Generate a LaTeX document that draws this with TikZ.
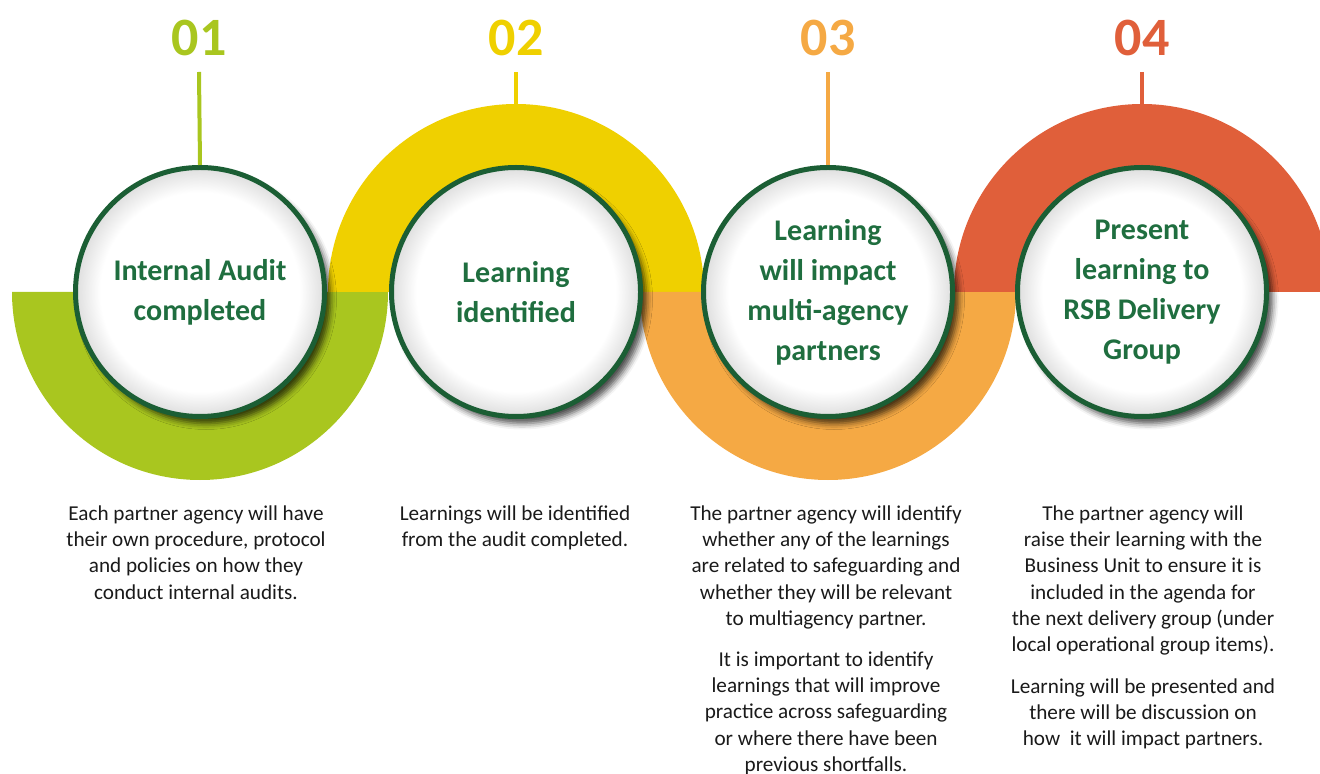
\documentclass[tikz,border=0pt]{standalone}
\usepackage{fontspec}
\setmainfont{Carlito}
\usepackage{xcolor}
\usetikzlibrary{shadows.blur}
\definecolor{vlime}{HTML}{A9C61F}
\definecolor{vyellow}{HTML}{EFD000}
\definecolor{vorange}{HTML}{F5A944}
\definecolor{vred}{HTML}{E05F3A}
\definecolor{vdarkgreen}{HTML}{1B5E34}
\definecolor{vgreen}{HTML}{1F6E3F}
\definecolor{vdarkgray}{HTML}{1a1a1a}
\pgfdeclareradialshading{discshade}{\pgfpoint{0bp}{0bp}}{color(0bp)=(white); color(20bp)=(white); color(25bp)=(black!13); color(50bp)=(black!13)}

\begin{document}
\begin{tikzpicture}[x=0.5pt, y=-0.5pt,
		disc/.style={circle, draw=vdarkgreen, line width=2.5pt, minimum size=124.5pt, inner sep=0pt,
			shade, shading=discshade,
			blur shadow={shadow xshift=3pt, shadow yshift=-3.5pt, shadow blur radius=3pt, shadow opacity=70},
			text=vgreen, align=center, font=\fontsize{15}{20}\selectfont\bfseries},
		num/.style={font=\fontsize{27}{27}\selectfont\bfseries},
		stem/.style={line width=2pt},
		body/.style={anchor=north, inner sep=0pt, align=center, text=vdarkgray, font=\fontsize{10.6}{13.15}\selectfont}]
		\clip (0,0) rectangle (1320,774);
		\coordinate (p1) at (200,292);
		\coordinate (p2) at (516,292);
		\coordinate (p3) at (828,292);
		\coordinate (p4) at (1142,292);
		% half rings behind the discs
		\fill[vlime] (12,292) arc[start angle=180, end angle=0, radius=188] -- cycle;
		\fill[vyellow] (328,292) arc[start angle=180, end angle=360, radius=188] -- cycle;
		\fill[vorange] (640,292) arc[start angle=180, end angle=0, radius=188] -- cycle;
		\fill[vred] (954,292) arc[start angle=180, end angle=360, radius=188] -- cycle;
		% numbers and stems
		\node[num, text=vlime] (n1) at (199,38) {01};
		\node[num, text=vyellow] (n2) at (516,38) {02};
		\node[num, text=vorange] (n3) at (828,38) {03};
		\node[num, text=vred] (n4) at (1142,38) {04};
		\coordinate (s1) at (199,72);
		\coordinate (s2) at (516,72);
		\coordinate (s3) at (828,72);
		\coordinate (s4) at (1142,72);
		\coordinate (r2) at (516,104);
		\coordinate (r4) at (1142,104);
		\node[disc] (c1) at (p1) {Internal Audit\\completed};
		\node[disc] (c2) at (p2) {Learning\\identified};
		\node[disc] (c3) at (p3) {Learning\\will impact\\multi-agency\\partners};
		\node[disc] (c4) at (p4) {Present\\learning to\\RSB Delivery\\Group};
		\draw[stem, color=vlime] (s1) -- (c1.north);
		\draw[stem, color=vyellow] (s2) -- (r2);
		\draw[stem, color=vorange] (s3) -- (c3.north);
		\draw[stem, color=vred] (s4) -- (r4);
		% descriptions
		\node[body] (d1) at (196,505) {Each partner agency will have\\their own procedure, protocol\\and policies on how they\\conduct internal audits.};
		\node[body] (d2) at (515,505) {Learnings will be identified\\from the audit completed.};
		\node[body] (d3) at (826,505) {The partner agency will identify\\whether any of the learnings\\are related to safeguarding and\\whether they will be relevant\\to multiagency partner.};
		\node[body] (e3) at (826,651) {It is important to identify\\learnings that will improve\\practice across safeguarding\\or where there have been\\previous shortfalls.};
		\node[body] (d4) at (1143,505) {The partner agency will\\raise their learning with the\\Business Unit to ensure it is\\included in the agenda for\\the next delivery group (under\\local operational group items).};
		\node[body] (e4) at (1143,678) {Learning will be presented and\\there will be discussion on\\how\ \ it will impact partners.};
	\end{tikzpicture}
\end{document}
